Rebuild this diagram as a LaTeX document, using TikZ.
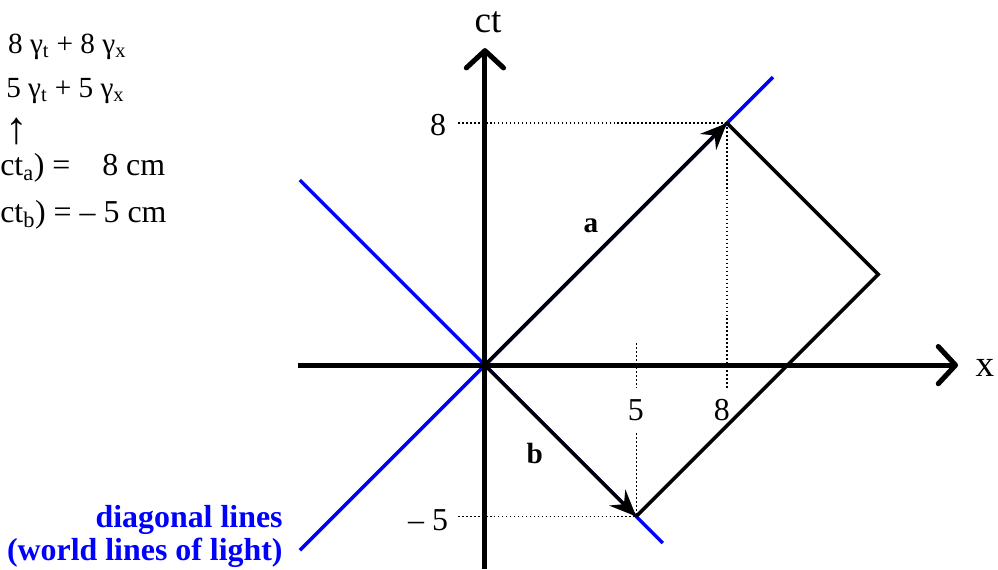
\documentclass[tikz,border=0pt]{standalone}
\usepackage{fontspec}
\setmainfont{Liberation Serif}
\usetikzlibrary{arrows.meta,positioning}
\definecolor{STLight}{HTML}{0000FF}
\definecolor{STInk}{HTML}{000000}

\begin{document}
\begin{tikzpicture}[
  x=0.8cm, y=0.8cm,
  axis/.style={line width=3.8pt, draw=STInk, -{Straight Barb[length=13pt,width=28pt,round]}},
  lightline/.style={line width=2.6pt, draw=STLight},
  vecarrow/.style={line width=2.6pt, draw=STInk, -{Stealth[length=20pt,width=17pt,inset=7pt]}},
  side/.style={line width=2.6pt, draw=STInk},
  guide/.style={line width=1pt, dash pattern=on 1.2pt off 1.8pt},
  ticklabel/.style={font=\fontsize{24}{28}\selectfont, inner sep=0pt},
  axislabel/.style={font=\fontsize{28}{32}\selectfont, inner sep=0pt},
  veclabel/.style={font=\fontsize{22}{26}\selectfont\bfseries, inner sep=0pt},
  note/.style={font=\fontsize{22}{26}\selectfont, inner sep=0pt, anchor=base west},
  bignote/.style={note, font=\fontsize{24}{28}\selectfont}
]
\useasboundingbox (-16.03,-6.74) rectangle (16.96,12.07);

% points of the diagram
\coordinate (O) at (0,0);
\coordinate (A) at (8,8);
\coordinate (B) at (5,-5);
\coordinate (C) at (13,3);
\coordinate (xstart) at (-6.18,0);
\coordinate (xend) at (15.64,0);
\coordinate (tstart) at (0,-6.74);
\coordinate (tend) at (0,10.48);
\coordinate (lightA1) at (-6.12,6.12);
\coordinate (lightA2) at (5.88,-5.88);
\coordinate (lightB1) at (-6.12,-6.12);
\coordinate (lightB2) at (9.52,9.52);
\coordinate (guideA) at (-0.89,8);
\coordinate (guideB) at (-0.89,-5);
\coordinate (footA) at (8,-0.83);
\coordinate (tickB1) at (5,0.73);
\coordinate (tickB2) at (5,-0.76);
\coordinate (footB) at (5,-2.25);

% world lines of light
\draw[lightline] (lightA1) -- (lightA2);
\draw[lightline] (lightB1) -- (lightB2);

% dotted guides
\draw[guide] (guideA) -- (A);
\draw[guide] (guideB) -- (B);
\draw[guide] (A) -- (footA);
\draw[guide] (tickB1) -- (tickB2);
\draw[guide] (footB) -- (B);

% axes
\draw[axis] (xstart) -- (xend);
\draw[axis] (tstart) -- (tend);
\node[axislabel] (xlabel) at (16.53,-0.1) {x};
\node[axislabel] (tlabel) at (0.1,11.34) {ct};

% vectors
\draw[side] (A) -- (C) -- (B);
\draw[vecarrow] (O) -- (A);
\draw[vecarrow] (O) -- (B);
\node[veclabel] (alabel) at (3.5,4.6) {a};
\node[veclabel] (blabel) at (1.65,-2.91) {b};

% tick labels
\node[ticklabel] (t8) at (-1.55,7.93) {8};
\node[ticklabel] (tm5) at (-1.88,-5.12) {\textendash\ 5};
\node[ticklabel] (x5) at (4.99,-1.49) {5};
\node[ticklabel] (x8) at (7.83,-1.49) {8};

\node[font=\fontsize{24}{25}\selectfont\bfseries, text=STLight, align=right, anchor=east, inner sep=0pt] (lightnote) at (-6.68,-5.67) {diagonal lines\\(world lines of light)};

% text at the top left
\node[note] (line1) at (-15.77,10.31) {8 γ\textsubscript{t} + 8 γ\textsubscript{x}};
\node[note] (line2) at (-15.83,8.86) {5 γ\textsubscript{t} + 5 γ\textsubscript{x}};
\node[note, font=\fontsize{34}{36}\selectfont] (line3) at (-15.85,7.33) {↑};
\node[bignote] (line4) at (-16.03,6.28) {ct\textsubscript{a}) = \phantom{\textendash} 8 cm};
\node[bignote] (line5) at (-16.03,4.73) {ct\textsubscript{b}) = \textendash\ 5 cm};
\end{tikzpicture}
\end{document}
